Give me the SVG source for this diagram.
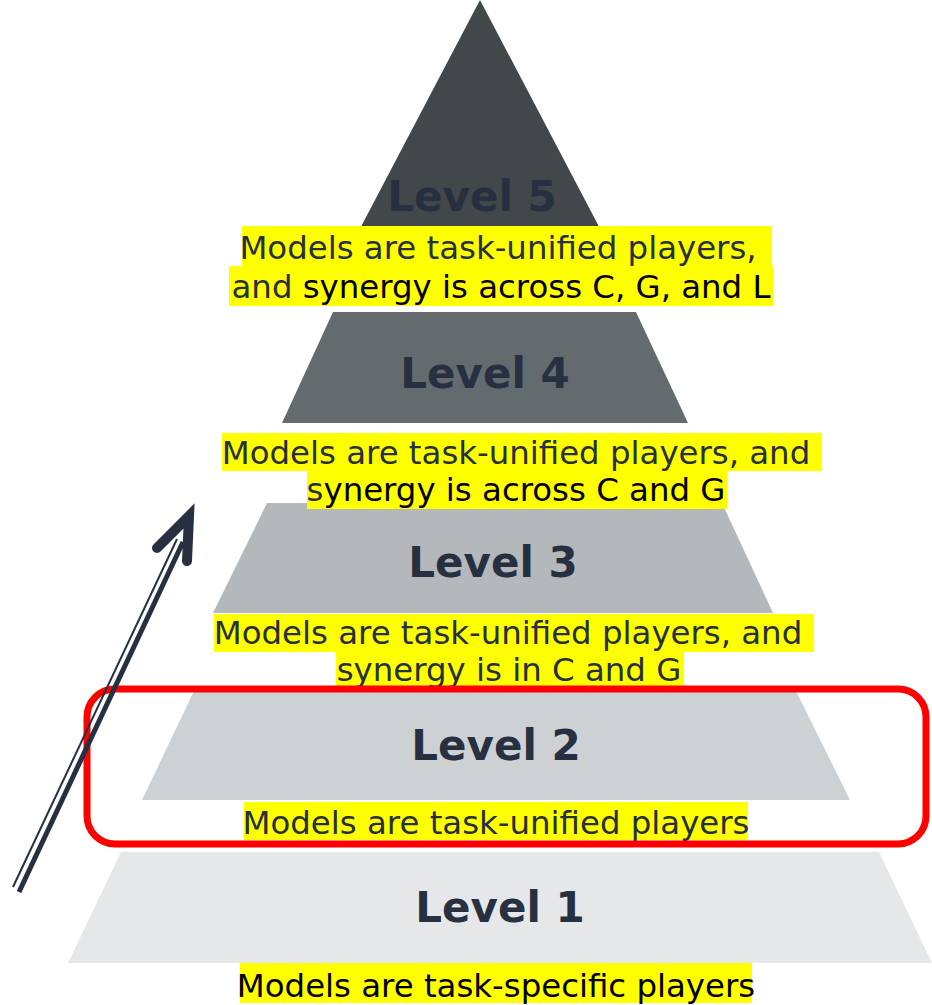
<svg xmlns="http://www.w3.org/2000/svg" width="932" height="1005" viewBox="0 0 932 1005">
  <style>
    .lvl { font-family: "DejaVu Sans", Verdana, sans-serif; font-weight: bold; font-size: 42px; fill: #263040; text-anchor: middle; }
    .cap { font-family: "DejaVu Sans", Verdana, sans-serif; font-size: 32.4px; fill: #263040; text-anchor: middle; }
    .blk { fill: #000000; }
    .hl { fill: #ffff00; }
    .arrow-line { stroke: #263040; fill: none; }
  </style>
  <rect width="932" height="1005" fill="#ffffff"/>

  <!-- pyramid tiers -->
  <g id="level5">
    <polygon points="480,0 354,240 606,240" fill="#424749"/>
    <text class="lvl" x="472" y="211">Level 5</text>
  </g>
  <g id="level4">
    <polygon points="333,312 636,312 688,423 282,423" fill="#636b6e"/>
    <text class="lvl" x="485" y="388">Level 4</text>
  </g>
  <g id="level3">
    <polygon points="267,503 722,503 773,613 213,613" fill="#b4b8ba"/>
    <text class="lvl" x="493" y="577">Level 3</text>
  </g>
  <g id="level2">
    <polygon points="194,691 796,691 850,800 142,800" fill="#cdd1d3"/>
    <text class="lvl" x="496" y="760">Level 2</text>
  </g>
  <g id="level1">
    <polygon points="121,852 879,852 932,963 68,963" fill="#e6e7e9"/>
    <text class="lvl" x="500" y="922">Level 1</text>
  </g>

  <!-- highlighted captions -->
  <g id="caption5">
    <rect class="hl" x="242" y="226" width="530" height="40"/>
    <rect class="hl" x="229" y="266" width="544" height="40"/>
    <text class="cap" x="498" y="259">Models are task-unified players,</text>
    <text class="cap" x="501" y="298">and<tspan class="blk"> synergy is across C, G, and L</tspan></text>
  </g>
  <g id="caption4">
    <rect class="hl" x="222" y="433" width="600" height="38"/>
    <rect class="hl" x="307" y="471" width="420" height="38"/>
    <text class="cap" x="516" y="464">Models are task-unified players, and</text>
    <text class="cap" x="516" y="501">s<tspan class="blk">ynergy is across C and G</tspan></text>
  </g>
  <g id="caption3">
    <rect class="hl" x="214" y="614" width="600" height="38"/>
    <rect class="hl" x="336" y="652" width="348" height="36"/>
    <text class="cap" x="508" y="644">Models are task-unified players, and</text>
    <text class="cap" x="509" y="681">synergy is in C and G</text>
  </g>
  <g id="caption2">
    <rect class="hl" x="244" y="802" width="504" height="38"/>
    <text class="cap" x="496" y="834">Models are task-unified players</text>
  </g>
  <g id="caption1">
    <rect class="hl" x="240" y="963" width="512" height="40"/>
    <text class="cap blk" x="496" y="997">Models are task-specific players</text>
  </g>

  <!-- focus frame around level 2 -->
  <g id="focus">
    <rect x="87" y="689" width="839" height="155" rx="28" ry="28" fill="none" stroke="#ff0000" stroke-width="7"/>
  </g>

  <!-- progression arrow -->
  <g id="connectors">
    <line class="arrow-line" x1="13" y1="887" x2="177" y2="539" stroke-width="2"/>
    <line class="arrow-line" x1="19" y1="892" x2="183" y2="542" stroke-width="5"/>
    <polyline class="arrow-line" points="157,548 189,516 187,561" stroke-width="10" stroke-linecap="round" stroke-linejoin="miter" stroke-miterlimit="10"/>
  </g>
</svg>
